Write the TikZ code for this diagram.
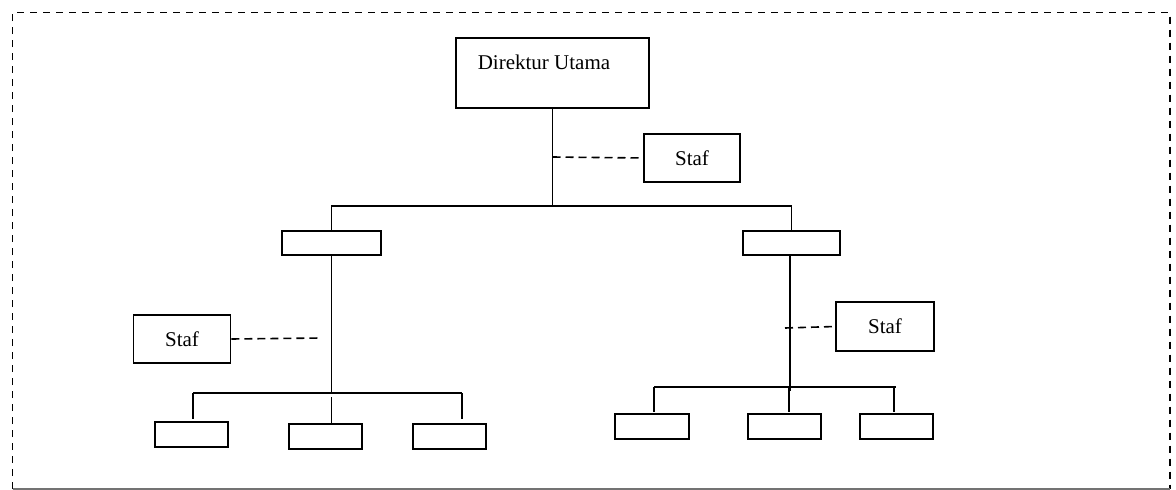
\documentclass[tikz,border=0pt]{standalone}
\usepackage{fontspec}
\setmainfont{Liberation Serif}
\begin{document}
\begin{tikzpicture}[x=1pt,y=-1pt,
  box/.style={draw=black,line width=1.6pt,fill=white,rectangle,inner sep=0pt},
  lbl/.style={font=\fontsize{21}{25}\selectfont},
  link/.style={draw=black,line width=1.5pt},
  staffline/.style={draw=black,line width=1.6pt,dash pattern=on 8pt off 5pt},
  frame/.style={draw=black,line width=1.7pt,dash pattern=on 7pt off 6pt}]
\useasboundingbox (0,0) rectangle (1176,490);
% frame
\coordinate (ftl) at (12.5,12.5);
\coordinate (ftr) at (1170,12.5);
\coordinate (fbl) at (12.5,489);
\coordinate (fbr) at (1170,489);
\draw[frame] (fbl) -- (ftl) -- (ftr) -- (fbr);
\draw[draw=black!55,line width=1.2pt] (fbl) -- (fbr);
% top
\node[box,minimum width=193pt,minimum height=70pt] (du) at (552.5,73) {};
\node[lbl] (dut) at (544,62) {Direktur Utama};
\node[box,minimum width=96pt,minimum height=48pt,lbl] (s0) at (692,158) {Staf};
\coordinate (j0) at (552.5,206);
\coordinate (d0) at (552.5,157);
\draw[link] (du.south) -- (j0);
\draw[staffline] (d0) -- (s0.west);
% level 1
\node[box,minimum width=99pt,minimum height=24pt] (l1) at (331.5,243) {};
\node[box,minimum width=97pt,minimum height=24pt] (r1) at (791.5,243) {};
\coordinate (jl) at (331.5,206);
\coordinate (jr) at (791.5,206);
\draw[link] (l1.north) -- (jl) -- (jr) -- (r1.north);
% left branch
\node[box,minimum width=97pt,minimum height=48pt,lbl] (sl) at (182,339) {Staf};
\coordinate (bl) at (331.5,393);
\coordinate (dl) at (321,338);
\draw[link] (l1.south) -- (bl);
\draw[staffline] (sl.east) -- (dl);
\node[box,minimum width=73pt,minimum height=25pt] (lb1) at (191.5,434.5) {};
\node[box,minimum width=73pt,minimum height=25pt] (lb2) at (325.5,436.5) {};
\node[box,minimum width=73pt,minimum height=25pt] (lb3) at (449.5,436.5) {};
\coordinate (bl1) at (193,393);
\coordinate (bl3) at (462,393);
\coordinate (bl2) at (331.5,397);
\draw[link] (bl1) -- (bl3);
\draw[link] (bl1) -- (193,419);
\draw[link] (bl2) -- (bl2 |- lb2.north);
\draw[link] (bl3) -- (462,419);
% right branch
\node[box,minimum width=98pt,minimum height=49pt,lbl] (sr) at (885,326.5) {Staf};
\coordinate (br) at (790,391);
\coordinate (dr) at (785,328);
\draw[link] (r1.south -| br) -- (br);
\draw[staffline] (dr) -- (sr.west);
\node[box,minimum width=74pt,minimum height=25pt] (rb1) at (652,426.5) {};
\node[box,minimum width=73pt,minimum height=25pt] (rb2) at (784.5,426.5) {};
\node[box,minimum width=73pt,minimum height=25pt] (rb3) at (896.5,426.5) {};
\coordinate (br1) at (654,387);
\coordinate (br2) at (789,387);
\coordinate (br3) at (896,387);
\draw[link] (br1) -- (br3);
\draw[link] (br1) -- (654,412);
\draw[link] (br2) -- (789,412);
\draw[link] (894,387) -- (894,412);
\end{tikzpicture}
\end{document}
